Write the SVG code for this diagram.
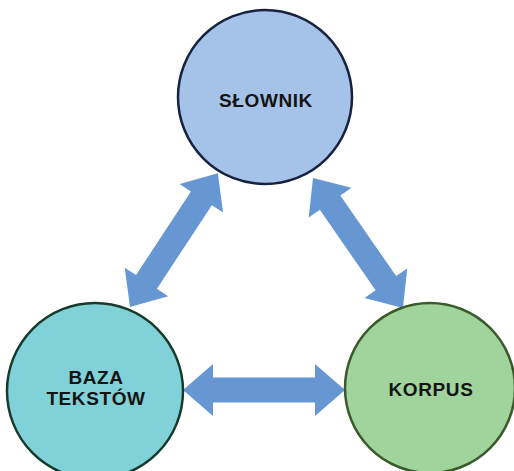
<svg xmlns="http://www.w3.org/2000/svg" width="514" height="471" viewBox="0 0 514 471">
<style>
.lbl{font-family:"Liberation Sans",Arial,sans-serif;font-weight:bold;font-size:19px;letter-spacing:0.6px;fill:#141414;text-anchor:middle}
.arr{fill:#6797d3}
</style>
<rect width="514" height="471" fill="#ffffff"/>
<g id="connectors">
<path class="arr" transform="translate(183,390)" d="M0,0 L30,-26 L30,-12.5 L132,-12.5 L132,-26 L162,0 L132,26 L132,12.5 L30,12.5 L30,26 Z"/>
<path class="arr" transform="translate(130,307) rotate(-56.7)" d="M0,0 L30,-26 L30,-12.5 L130,-12.5 L130,-26 L160,0 L130,26 L130,12.5 L30,12.5 L30,26 Z"/>
<path class="arr" transform="translate(313,178) rotate(55.3)" d="M0,0 L30,-26 L30,-12.5 L128,-12.5 L128,-26 L158,0 L128,26 L128,12.5 L30,12.5 L30,26 Z"/>
</g>
<g id="slownik">
<circle cx="265" cy="97" r="87" fill="#a5c3e9" stroke="#16223f" stroke-width="2.5"/>
<text class="lbl" x="266" y="107">SŁOWNIK</text>
</g>
<g id="baza">
<circle cx="95" cy="391" r="88" fill="#80d2d8" stroke="#163a2c" stroke-width="2.5"/>
<text class="lbl" x="96" y="384">BAZA</text>
<text class="lbl" x="96" y="405">TEKSTÓW</text>
</g>
<g id="korpus">
<circle cx="430" cy="388" r="85" fill="#a1d49d" stroke="#3a5a2c" stroke-width="2.5"/>
<text class="lbl" x="431" y="396">KORPUS</text>
</g>
</svg>
